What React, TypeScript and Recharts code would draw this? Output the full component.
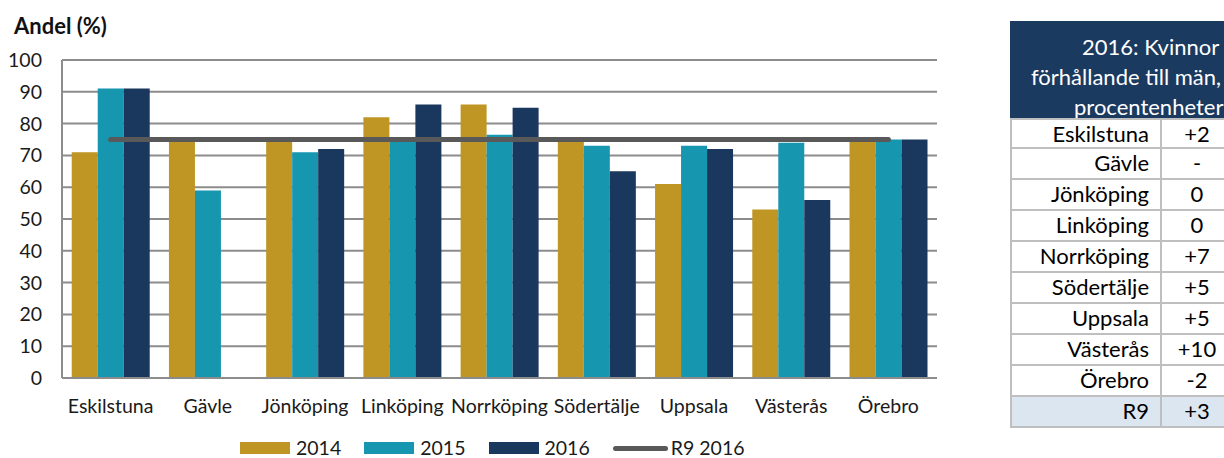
import React from 'react';
import { ComposedChart, Bar, Line, XAxis, YAxis, CartesianGrid } from 'recharts';

const categories = ['Eskilstuna', 'Gävle', 'Jönköping', 'Linköping', 'Norrköping', 'Södertälje', 'Uppsala', 'Västerås', 'Örebro'];
const values2014 = [71, 75, 75, 82, 86, 75, 61, 53, 75];
const values2015 = [91, 59, 71, 75, 76.5, 73, 73, 74, 75];
const values2016: (number | null)[] = [91, null, 72, 86, 85, 65, 72, 56, 75];
const r9Values = [75, 75, 75, 75, 75, 75, 75, 75, 75];
const yTicks = [0, 10, 20, 30, 40, 50, 60, 70, 80, 90, 100];

const tableCities = ['Eskilstuna', 'Gävle', 'Jönköping', 'Linköping', 'Norrköping', 'Södertälje', 'Uppsala', 'Västerås', 'Örebro', 'R9'];
const tableDiffs = ['+2', '-', '0', '0', '+7', '+5', '+5', '+10', '-2', '+3'];
const tableTitle = ['2016: Kvinnor i', 'förhållande till män,', 'procentenheter'];

const C2014 = '#BF9524';
const C2015 = '#1696AF';
const C2016 = '#1A375D';
const CR9 = '#595959';
const GRID = '#8c8c8c';
const FONT = 'Lato, "Open Sans", sans-serif';

const data = categories.map((name, i) => ({
  name,
  y2014: values2014[i],
  y2015: values2015[i],
  y2016: values2016[i],
  r9: r9Values[i],
}));

const legendItems = [
  { label: '2014', color: C2014, kind: 'bar' },
  { label: '2015', color: C2015, kind: 'bar' },
  { label: '2016', color: C2016, kind: 'bar' },
  { label: 'R9 2016', color: CR9, kind: 'line' },
];

const ROW_H = 31;
const BORDER = '2px solid #bfbfbf';
// header lines are cut by the page edge, so each line gets its own left edge
const titleIndent = [72, 21, 64];

export default function App() {
  return (
    <div style={{ position: 'absolute', left: 0, top: 0, width: 1224, height: 458, overflow: 'hidden', background: '#fff', fontFamily: FONT }}>
      <div style={{ position: 'absolute', left: 14, top: 12, fontSize: 22, fontWeight: 700, color: '#111' }}>Andel (%)</div>

      <div style={{ position: 'absolute', left: 0, top: 0 }}>
        <ComposedChart
          width={960}
          height={458}
          data={data}
          margin={{ top: 60, right: 23, left: 0, bottom: 40 }}
          barCategoryGap="10%"
          barGap={0}
        >
          <CartesianGrid vertical={false} stroke={GRID} strokeWidth={2} />
          <XAxis
            dataKey="name"
            height={40}
            interval={0}
            tickLine={false}
            tickSize={6}
            tickMargin={15}
            axisLine={{ stroke: GRID, strokeWidth: 2 }}
            tick={{ fill: '#1a1a1a', fontSize: 19.5, fontFamily: FONT }}
          />
          <YAxis
            width={62}
            domain={[0, 100]}
            ticks={yTicks}
            interval={0}
            tickLine={false}
            tickSize={6}
            tickMargin={14}
            axisLine={{ stroke: GRID, strokeWidth: 2 }}
            tick={{ fill: '#1a1a1a', fontSize: 19.5, fontFamily: FONT }}
          />
          <Bar dataKey="y2014" name="2014" fill={C2014} isAnimationActive={false} />
          <Bar dataKey="y2015" name="2015" fill={C2015} isAnimationActive={false} />
          <Bar dataKey="y2016" name="2016" fill={C2016} isAnimationActive={false} />
          <Line
            dataKey="r9"
            name="R9 2016"
            type="linear"
            stroke={CR9}
            strokeWidth={5}
            strokeLinecap="round"
            dot={false}
            activeDot={false}
            isAnimationActive={false}
          />
        </ComposedChart>
      </div>

      {/* legend */}
      <div style={{ position: 'absolute', left: 240, top: 436, display: 'flex', alignItems: 'center', gap: 23, fontSize: 19.5, color: '#1a1a1a' }}>
        {legendItems.map((it) => (
          <div key={it.label} style={{ display: 'flex', alignItems: 'center' }}>
            {it.kind === 'bar' ? (
              <div style={{ width: 50, height: 12, background: it.color }} />
            ) : (
              <div style={{ width: 55, height: 5, borderRadius: 3, background: it.color }} />
            )}
            <span style={{ marginLeft: it.kind === 'bar' ? 6 : 3, lineHeight: '24px' }}>{it.label}</span>
          </div>
        ))}
      </div>

      {/* side table */}
      <div style={{ position: 'absolute', left: 1010, top: 21, width: 290, height: 97, background: '#1B3A60', color: '#fff', fontSize: 22, lineHeight: '30px', paddingTop: 11, boxSizing: 'border-box', overflow: 'hidden' }}>
        {tableTitle.map((t, i) => (
          <div key={t} style={{ whiteSpace: 'nowrap', paddingLeft: titleIndent[i] }}>{t}</div>
        ))}
      </div>
      {tableCities.map((city, i) => (
        <div
          key={city}
          style={{
            position: 'absolute',
            left: 1010,
            top: 118 + i * ROW_H,
            width: 290,
            height: ROW_H,
            boxSizing: 'border-box',
            borderLeft: BORDER,
            borderTop: i === 0 ? BORDER : undefined,
            borderBottom: BORDER,
            background: city === 'R9' ? '#DCE6F1' : '#fff',
            display: 'flex',
            fontSize: 22,
            color: '#000',
            lineHeight: '28px',
          }}
        >
          <div style={{ width: 150, textAlign: 'right', paddingRight: 11, boxSizing: 'border-box', borderRight: BORDER }}>{city}</div>
          <div style={{ width: 72, textAlign: 'center', boxSizing: 'border-box', borderRight: BORDER }}>{tableDiffs[i]}</div>
        </div>
      ))}
    </div>
  );
}
